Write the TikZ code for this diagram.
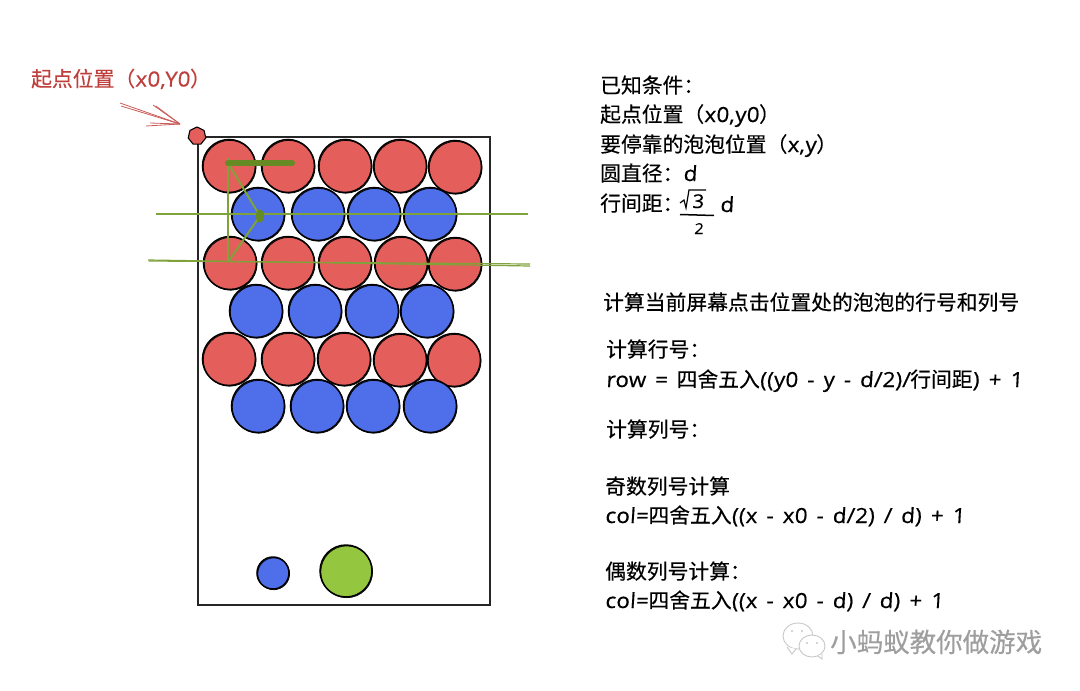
\documentclass[tikz,border=0pt]{standalone}
\usepackage{fontspec}
\usetikzlibrary{calc,shapes.geometric}
\setmainfont[FakeBold=0.35]{Noto Sans CJK SC}
\newfontfamily\hand[FakeSlant=0.06,FakeStretch=1.07,FakeBold=0.6,LetterSpace=1.4,WordSpace=1.5]{Open Sans}
\newcommand{\hd}[1]{{\hand #1}}
\definecolor{bubred}{HTML}{E45F5B}
\definecolor{bubblue}{HTML}{4F6FEA}
\definecolor{bubgreen}{HTML}{95C63F}
\definecolor{linegreen}{HTML}{7FA23A}
\definecolor{darkgreen}{HTML}{678B24}
\definecolor{labelred}{HTML}{BE3F3C}
\definecolor{marksgray}{HTML}{C8C8C8}
\tikzset{
  x=1pt,y=-1pt,
  bub/.style={circle,draw=black,line width=1.5pt,inner sep=0pt,fill=#1},
  txt/.style={anchor=base west,inner sep=0pt,font=\fontsize{20.8}{24}\selectfont},
  redtxt/.style={txt,text=labelred},
  glines/.style={draw=linegreen,line width=1.2pt},
  arrowline/.style={draw=labelred!85,line width=.8pt},
  frame/.style={draw=black!85,line width=1.5pt},
  wm/.style={draw=marksgray,fill=white,line width=.9pt},
}
\newcommand{\bubble}[5]{% name, x, y, colour, size
  \node[bub=#4,minimum size=#5pt] (#1) at (#2,#3) {};
  \draw[black,line width=.7pt] ($(#2,#3)+(.7,.8)$) circle[radius=#5/2-.1];
}
\begin{document}
\begin{tikzpicture}
\useasboundingbox (0,0) rectangle (1080,691);
% frame
\node[frame,draw,minimum width=292pt,minimum height=468pt,inner sep=0pt] (board) at (344,371) {};
% bubbles
\bubble{a1}{229}{166}{bubred}{53}
\bubble{a2}{288}{166}{bubred}{53}
\bubble{a3}{345}{166}{bubred}{53}
\bubble{a4}{400}{166}{bubred}{53}
\bubble{a5}{455}{167}{bubred}{53}
\bubble{b1}{258}{214}{bubblue}{53}
\bubble{b2}{318}{214}{bubblue}{53}
\bubble{b3}{374}{214}{bubblue}{53}
\bubble{b4}{430}{214}{bubblue}{53}
\bubble{c1}{230}{263}{bubred}{53}
\bubble{c2}{288}{263}{bubred}{53}
\bubble{c3}{345}{263}{bubred}{53}
\bubble{c4}{401}{263}{bubred}{53}
\bubble{c5}{455}{264}{bubred}{53}
\bubble{d1}{256}{311}{bubblue}{53}
\bubble{d2}{315}{311}{bubblue}{53}
\bubble{d3}{372}{311}{bubblue}{53}
\bubble{d4}{427}{311}{bubblue}{53}
\bubble{e1}{229}{359}{bubred}{53}
\bubble{e2}{288}{359}{bubred}{53}
\bubble{e3}{344}{359}{bubred}{53}
\bubble{e4}{400}{360}{bubred}{53}
\bubble{e5}{454}{360}{bubred}{53}
\bubble{f1}{258}{406}{bubblue}{53}
\bubble{f2}{317}{406}{bubblue}{53}
\bubble{f3}{373}{406}{bubblue}{53}
\bubble{f4}{430}{406}{bubblue}{53}
\bubble{shot}{273}{573}{bubblue}{32}
\bubble{next}{346}{571}{bubgreen}{52}
\node[regular polygon,regular polygon sides=7,draw=black,line width=1.1pt,fill=bubred,inner sep=0pt,minimum size=18pt] (origin) at (197,136) {};
% green construction
\coordinate (p) at (228,163);
\coordinate (q) at (228,262);
\coordinate (m) at (260,216);
\coordinate (t) at (292,163);
\coordinate (vt) at (228,158);
\coordinate (la) at (156,214); \coordinate (ra) at (528,214);
\coordinate (lb) at (148,260); \coordinate (rb) at (530,266);
\coordinate (lc) at (149,261); \coordinate (rc) at (530,264);
\draw[glines] (la)--(ra);
\draw[glines] (lb)--(rb);
\draw[glines] (lc)--(rc);
\draw[glines,line width=2pt] (vt)--(q);
\draw[glines,line width=2pt] (p)--(m);
\draw[glines,line width=2pt] (q)--(m);
\draw[darkgreen,line width=6pt,line cap=round] (p)--(t);
\fill[darkgreen] (m) ellipse[x radius=4,y radius=6.5];
% red arrow
\coordinate (tail) at (120,103);
\coordinate (tail2) at (121,106);
\coordinate (tip) at (180,124);
\coordinate (h1) at (153,105);
\coordinate (h1b) at (156,106);
\coordinate (h2) at (146,126);
\coordinate (h2b) at (150,123);
\draw[arrowline] (tail)--(tip);
\draw[arrowline] (tail2)--(tip);
\draw[arrowline] (h1)--(tip);
\draw[arrowline] (h1b)--(tip);
\draw[arrowline] (h2)--(tip);
\draw[arrowline] (h2b)--(tip);
% labels
\node[redtxt] (lab) at (31,86.5) {起点位置（\hd{x0,Y0}）};
\node[txt] (t1) at (600,93) {已知条件：};
\node[txt] (t2) at (600,122) {起点位置（\hd{x0,y0}）};
\node[txt] (t3) at (600,152) {要停靠的泡泡位置（\hd{x,y}）};
\node[txt] (t4) at (600,181) {圆直径：\hd{d}};
\node[txt] (t5) at (600,211) {行间距：};
\node[txt,font=\fontsize{19}{20}\selectfont] (r3) at (692,208) {\hd{3}};
\coordinate (s1) at (680,203); \coordinate (s2) at (684,200); \coordinate (s3) at (686,208);
\coordinate (s4) at (689,190); \coordinate (s5) at (706,190);
\draw[black,line width=1.2pt] (s1)--(s2)--(s3)--(s4)--(s5);
\coordinate (fa) at (680,214.5); \coordinate (fb) at (714,215.5);
\draw[black,line width=1.5pt] (fa)--(fb);
\node[txt,font=\fontsize{15}{18}\selectfont] (two) at (694,234) {\hd{2}};
\node[txt] (dd) at (720,212) {\hd{d}};
\node[txt] (t6) at (603,310) {计算当前屏幕点击位置处的泡泡的行号和列号};
\node[txt] (t7) at (606,357) {计算行号：};
\node[txt] (t8) at (606,387) {\hd{row = }四舍五入\hd{((y0 - y - d/2)/}行间距\hd{) + 1}};
\node[txt] (t9) at (606,437) {计算列号：};
\node[txt] (t10) at (605,494) {奇数列号计算};
\node[txt] (t11) at (605,523) {\hd{col=}四舍五入\hd{((x - x0 - d/2) / d) + 1}};
\node[txt] (t12) at (605,579) {偶数列号计算：};
\node[txt] (t13) at (605,608) {\hd{col=}四舍五入\hd{((x - x0 - d) / d) + 1}};
% watermark
\draw[wm] (798,636) ellipse[x radius=15,y radius=13];
\draw[wm] (787,647)--(792,654)--(796,649);
\draw[wm] (812,646) ellipse[x radius=13,y radius=11];
\draw[wm] (818,656)--(822,659)--(822,654);
\foreach \a/\b in {792/631,802/631,807/643,817/643}{\fill[marksgray] (\a,\b) circle[radius=1.2];}
\node[anchor=base west,inner sep=0pt,text=black!38,font=\fontsize{26.5}{30}\selectfont] (mark) at (830,652) {小蚂蚁教你做游戏};
\end{tikzpicture}
\end{document}
